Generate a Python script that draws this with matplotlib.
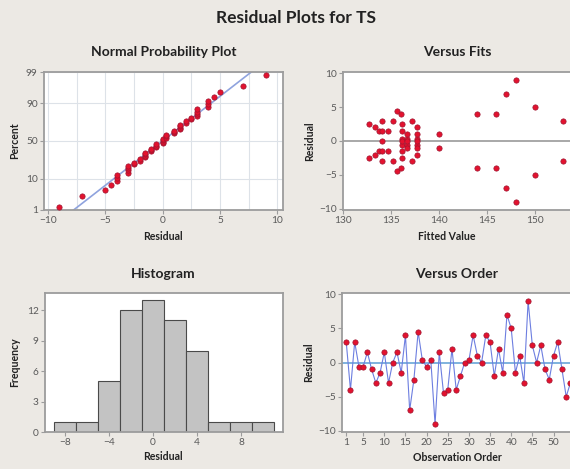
import numpy as np
import matplotlib
matplotlib.use('Agg')
import matplotlib.pyplot as plt
from statistics import NormalDist

# ---------------- data ----------------
residuals = [3, -4, 3, -0.6, -0.6, 1.5, -1, -3, -1.5, 1.5,
             -3, 0, 1.5, -1.5, 4, -7, -2.5, 4.5, 0.3, -0.6,
             0.3, -9, 1.5, -4.5, -4, 2, -4, -2, 0, 0.3,
             4, 1, 0, 4, 3, -2, 2, -1.5, 7, 5,
             -1.5, 1, -3, 9, 2.5, 0, 2.5, -1, -2.5, 1,
             3, -1, -5, -3]
fits = [153, 144, 137.2, 136.2, 137.7, 133.8, 140, 153, 133.8, 134.7,
        137.2, 134.1, 136.2, 134.7, 144, 147, 132.7, 135.6, 136.2, 136.7,
        136.7, 148, 134.1, 135.6, 146, 133.3, 136.1, 133.3, 136.2, 137.7,
        146, 140, 136.7, 136.1, 135.2, 137.7, 137.7, 136.2, 147, 150,
        134.1, 136.7, 135.2, 148, 132.7, 137.7, 136.2, 136.7, 136.2, 137.7,
        134.1, 137.7, 150, 134.1]
hist_bin_edges = list(range(-9, 12, 2))
npp_x_ticks = [-10, -5, 0, 5, 10]
npp_x_grid = [-10, -7.5, -5, -2.5, 0, 2.5, 5, 7.5, 10]
npp_y_ticks = [1, 10, 50, 90, 99]
fits_x_ticks = [130, 135, 140, 145, 150]
resid_ticks = [-10, -5, 0, 5, 10]
hist_x_ticks = [-8, -4, 0, 4, 8]
hist_y_ticks = [0, 3, 6, 9, 12]
order_x_ticks = [1, 5, 10, 15, 20, 25, 30, 35, 40, 45, 50]

# ---------------- style ----------------
W, H = 570, 469
BG = '#ece9e4'
SPINE = '#9c9c9c'
RED = '#e3122e'
REDEDGE = '#9e1430'
TXT = '#222222'
TICKTXT = '#5a5a5a'
GRID = '#dde2e8'
FONT = ['Lato', 'DejaVu Sans']
plt.rcParams['font.family'] = FONT

fig = plt.figure(figsize=(W / 100, H / 100), dpi=100, facecolor=BG)


def rect(l, t, r, b):
    return [l / W, 1 - b / H, (r - l) / W, (b - t) / H]


def style(ax):
    ax.set_facecolor('white')
    for s in ax.spines.values():
        s.set_color(SPINE)
        s.set_linewidth(1.3)
    ax.tick_params(labelsize=7.3, colors=SPINE, labelcolor=TICKTXT,
                   length=3, width=0.8, direction='out', pad=1.5)


def txt(x, y, s, size, rot=0):
    fig.text(x / W, 1 - y / H, s, ha='center', va='center', fontsize=size,
             fontweight='bold', color=TXT, rotation=rot)


TITLE = 10
LABEL = 7.6
txt(296, 18, 'Residual Plots for TS', 12.5)

# ---------- Normal probability plot ----------
nd = NormalDist()
fwd = np.vectorize(lambda p: nd.inv_cdf(min(max(p / 100.0, 1e-9), 1 - 1e-9)),
                   otypes=[float])
inv = np.vectorize(lambda z: nd.cdf(z) * 100.0, otypes=[float])

ax1 = fig.add_axes(rect(44, 72, 283, 210))
style(ax1)
ax1.set_yscale('function', functions=(fwd, inv))
r_sorted = np.sort(np.array(residuals, dtype=float))
n = len(r_sorted)
pp = (np.arange(1, n + 1) - 0.3) / (n + 0.4) * 100
mu = np.mean(r_sorted)
sd = np.std(r_sorted, ddof=1)
line_p = np.array([0.5, 99.5])
line_x = mu + sd * np.array([nd.inv_cdf(p / 100) for p in line_p])
for g in npp_y_ticks:
    ax1.axhline(g, color=GRID, lw=0.8, zorder=0)
for g in npp_x_grid:
    ax1.axvline(g, color=GRID, lw=0.8, zorder=0)
ax1.plot(line_x, line_p, color='#8fa3de', lw=1.2, zorder=2)
ax1.plot(r_sorted, pp, 'o', ms=3.8, mfc=RED, mec=REDEDGE, mew=0.5, zorder=3)
ax1.set_xlim(-10.35, 10.5)
ax1.set_ylim(0.98, 99.02)
ax1.set_xticks(npp_x_ticks)
ax1.set_yticks(npp_y_ticks)
ax1.set_yticklabels([str(v) for v in npp_y_ticks])
ax1.minorticks_off()
txt(164, 52, 'Normal Probability Plot', TITLE)
txt(163, 236, 'Residual', LABEL)
txt(15, 141, 'Percent', LABEL, 90)

# ---------- Versus fits ----------
ax2 = fig.add_axes(rect(343, 72, 580, 210))
style(ax2)
ax2.spines['right'].set_visible(False)
ax2.axhline(0, color='#a8a8a8', lw=1.4, zorder=1)
ax2.plot(fits, residuals, 'o', ms=3.8, mfc=RED, mec=REDEDGE, mew=0.5,
         ls='none', zorder=3)
ax2.set_xlim(130, 130 + (580 - 343) / 9.585)
ax2.set_ylim(-10.2, 10.2)
ax2.set_xticks(fits_x_ticks)
ax2.set_yticks(resid_ticks)
txt(457, 52, 'Versus Fits', TITLE)
txt(447, 237, 'Fitted Value', LABEL)
txt(310, 141, 'Residual', LABEL, 90)

# ---------- Histogram ----------
ax3 = fig.add_axes(rect(45, 293, 283, 432))
style(ax3)
ax3.hist(residuals, bins=hist_bin_edges, color='#c3c3c3', edgecolor='#4a4a4a',
         linewidth=0.8, zorder=2)
ax3.set_xlim(-9.8, 11.8)
ax3.set_ylim(0, 13.7)
ax3.set_xticks(hist_x_ticks)
ax3.set_yticks(hist_y_ticks)
txt(163, 274, 'Histogram', TITLE)
txt(163, 456, 'Residual', LABEL)
txt(15, 362, 'Frequency', LABEL, 90)

# ---------- Versus order ----------
ax4 = fig.add_axes(rect(342, 293, 342 + 55 * 4.23, 432))
style(ax4)
ax4.spines['right'].set_visible(False)
obs = np.arange(1, len(residuals) + 1)
ax4.axhline(0, color='#6aa6d8', lw=1.2, zorder=1)
ax4.plot(obs, residuals, '-', color='#6d7ee0', lw=0.8, zorder=2)
ax4.plot(obs, residuals, 'o', ms=3.8, mfc=RED, mec=REDEDGE, mew=0.5,
         ls='none', zorder=3)
ax4.set_xlim(0, 55)
ax4.set_ylim(-10.2, 10.2)
ax4.set_xticks(order_x_ticks)
ax4.set_yticks(resid_ticks)
txt(457, 274, 'Versus Order', TITLE)
txt(457, 457, 'Observation Order', LABEL)
txt(309, 362, 'Residual', LABEL, 90)

fig.savefig('out.png', dpi=100, facecolor=BG)
